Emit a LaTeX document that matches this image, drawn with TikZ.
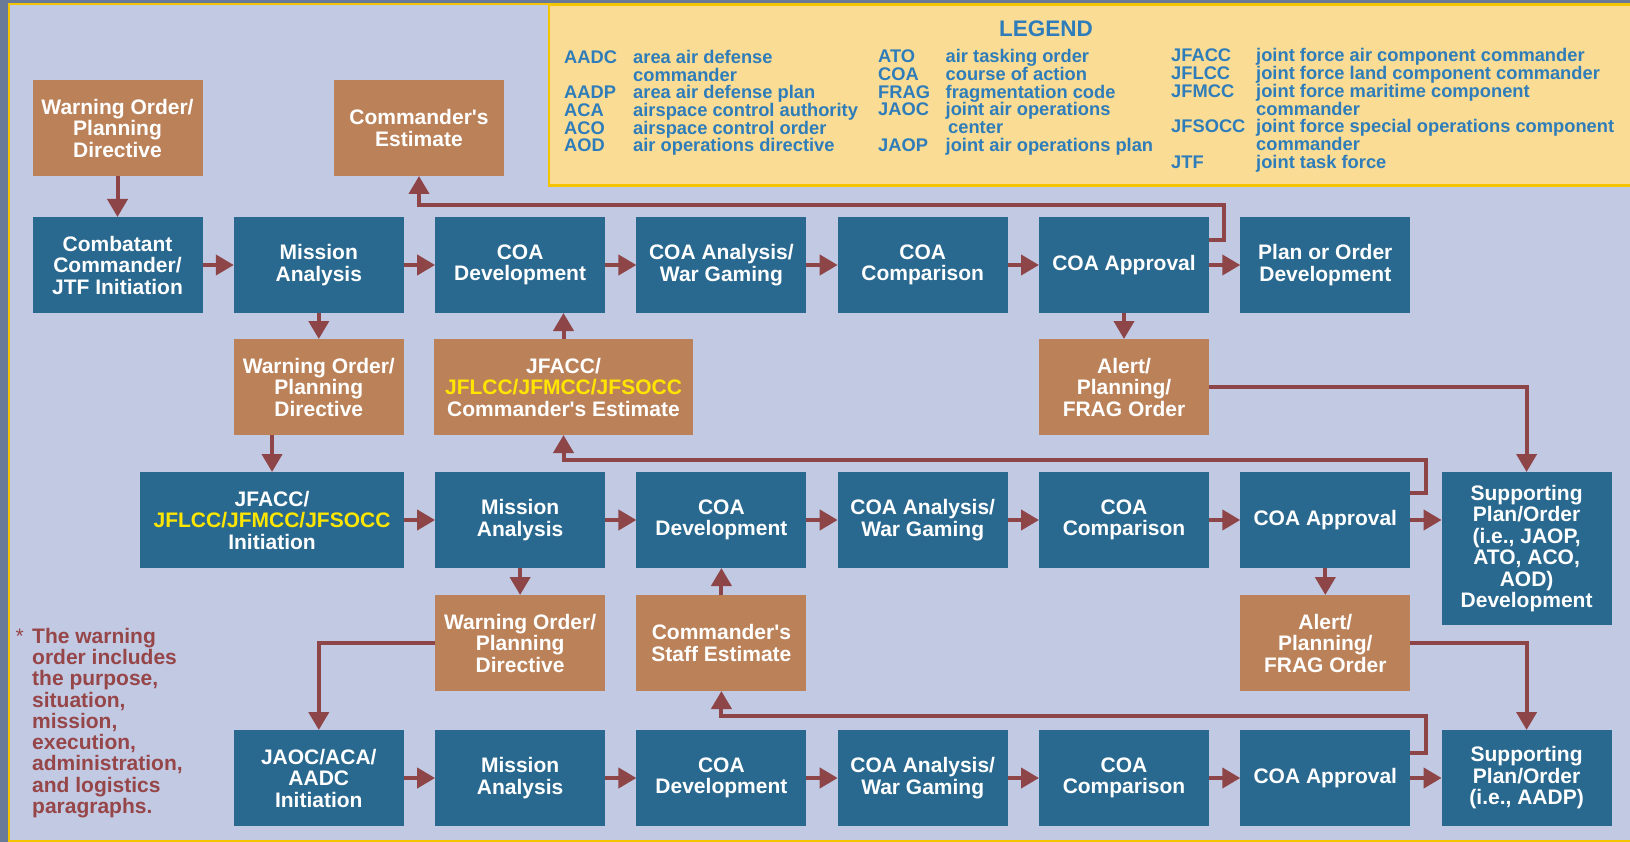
\documentclass[tikz,border=0pt]{standalone}
\usepackage{fontspec}
\setmainfont{Liberation Sans}[Ligatures=TeXOff]
\usetikzlibrary{arrows.meta,calc}

\definecolor{slate}{HTML}{687A98}
\definecolor{lavender}{HTML}{C2C9E3}
\definecolor{framegold}{HTML}{F5C400}
\definecolor{legfill}{HTML}{FADC94}
\definecolor{legblue}{HTML}{2E7DBA}
\definecolor{boxblue}{HTML}{29698F}
\definecolor{boxorange}{HTML}{BB825A}
\definecolor{arrowred}{HTML}{8E4548}
\definecolor{hiyel}{HTML}{FFE600}
\definecolor{notered}{HTML}{964648}

\newcommand\flowfont{\fontsize{21}{21.5}\selectfont\bfseries}
\newcommand\legfont{\fontsize{18.3}{18}\selectfont\bfseries}

\begin{document}
\begin{tikzpicture}[x=1pt,y=-1pt,
  blk/.style={fill=boxblue,text=white,font=\flowfont,align=center,
    minimum width=170pt,minimum height=96pt,inner sep=0pt,outer sep=0pt,
    anchor=north west},
  org/.style={blk,fill=boxorange},
  flow/.style={draw=arrowred,line width=4pt,-{Triangle[length=18pt,width=20pt]}},
  legtxt/.style={font=\legfont,text=legblue,anchor=base west,inner sep=0pt},
  note/.style={text=notered,inner sep=0pt}
]
\useasboundingbox (0,0) rectangle (1630,842);
\clip (0,0) rectangle (1630,842);

% page background and frame
\fill[slate] (0,0) rectangle (1630,842);
\fill[lavender] (8.8,4.1) rectangle (1640,840.8);
\draw[framegold,line width=2.4pt] (8.8,4.1) rectangle (1640,840.8);

% legend panel
\draw[framegold,fill=legfill,line width=2.4pt] (549,5) rectangle (1640,185.5);
\node[font=\fontsize{22.5}{24}\selectfont\bfseries,text=legblue,anchor=base,inner sep=0pt]
  (legtitle) at (1046,36.5) {LEGEND};

\foreach \r/\t in {1/AADC,3/AADP,4/ACA,5/ACO,6/AOD}
  \node[legtxt] (abA\r) at (564,{63.5+17.7*(\r-1)}) {\t};
\foreach \r/\t in {1/area air defense,2/commander,3/area air defense plan,
    4/airspace control authority,5/airspace control order,6/air operations directive}
  \node[legtxt] (dfA\r) at (633,{63.5+17.7*(\r-1)}) {\t};

\foreach \r/\t in {1/ATO,2/COA,3/FRAG,4/JAOC,6/JAOP}
  \node[legtxt] (abB\r) at (878,{62.8+17.7*(\r-1)}) {\t};
\foreach \r/\t in {1/air tasking order,2/course of action,3/fragmentation code,
    4/joint air operations,6/joint air operations plan}
  \node[legtxt] (dfB\r) at (945.5,{62.8+17.7*(\r-1)}) {\t};
\node[legtxt] (dfB5) at (948,{62.8+17.7*4}) {center};

\foreach \r/\t in {1/JFACC,2/JFLCC,3/JFMCC,5/JFSOCC,7/JTF}
  \node[legtxt] (abC\r) at (1171,{62+17.7*(\r-1)}) {\t};
\foreach \r/\t in {1/joint force air component commander,
    2/joint force land component commander,3/joint force maritime component,
    4/commander,5/joint force special operations component,6/commander,
    7/joint task force}
  \node[legtxt] (dfC\r) at (1256,{62+17.7*(\r-1)}) {\t};

% top tier
\node[org] (woA) at (32.5,80) {Warning Order/\\Planning\\Directive};
\node[org] (ceA) at (334,80) {Commander's\\Estimate};

\node[blk] (cc)   at (32.5,217)  {Combatant\\Commander/\\JTF Initiation};
\node[blk] (ma1)  at (233.8,217) {Mission\\Analysis};
\node[blk] (cd1)  at (435.1,217) {COA\\Development};
\node[blk] (an1)  at (636.4,217) {COA Analysis/\\War Gaming};
\node[blk] (cmp1) at (837.7,217) {COA\\Comparison};
\node[blk] (ap1)  at (1039,217)  {COA Approval};
\node[blk] (pod)  at (1240.3,217) {Plan or Order\\Development};

\node[org] (woB) at (233.8,339) {Warning Order/\\Planning\\Directive};
\node[org,minimum width=259pt] (ceB) at (434,339)
  {JFACC/\\\textcolor{hiyel}{JFLCC/JFMCC/JFSOCC}\\Commander's Estimate};
\node[org] (alB) at (1039,339) {Alert/\\Planning/\\FRAG Order};

% component tier
\node[blk,minimum width=263.5pt] (init) at (140.3,472)
  {JFACC/\\\textcolor{hiyel}{JFLCC/JFMCC/JFSOCC}\\Initiation};
\node[blk] (ma2)  at (435.1,472) {Mission\\Analysis};
\node[blk] (cd2)  at (636.4,472) {COA\\Development};
\node[blk] (an2)  at (837.7,472) {COA Analysis/\\War Gaming};
\node[blk] (cmp2) at (1039,472)  {COA\\Comparison};
\node[blk] (ap2)  at (1240.3,472) {COA Approval};
\node[blk,minimum height=153pt] (sp1) at (1441.6,472)
  {Supporting\\Plan/Order\\(i.e., JAOP,\\ATO, ACO,\\AOD)\\Development};

\node[org] (woC)   at (435.1,595) {Warning Order/\\Planning\\Directive};
\node[org] (staff) at (636.4,595) {Commander's\\Staff Estimate};
\node[org] (alC)   at (1240.3,595) {Alert/\\Planning/\\FRAG Order};

% JAOC tier
\node[blk] (jaoc) at (233.8,730) {JAOC/ACA/\\AADC\\Initiation};
\node[blk] (ma3)  at (435.1,730) {Mission\\Analysis};
\node[blk] (cd3)  at (636.4,730) {COA\\Development};
\node[blk] (an3)  at (837.7,730) {COA Analysis/\\War Gaming};
\node[blk] (cmp3) at (1039,730)  {COA\\Comparison};
\node[blk] (ap3)  at (1240.3,730) {COA Approval};
\node[blk] (sp2)  at (1441.6,730) {Supporting\\Plan/Order\\(i.e., AADP)};

% sequence arrows along each tier
\foreach \a/\b in {cc/ma1,ma1/cd1,cd1/an1,an1/cmp1,cmp1/ap1,ap1/pod,
                   init/ma2,ma2/cd2,cd2/an2,an2/cmp2,cmp2/ap2,
                   jaoc/ma3,ma3/cd3,cd3/an3,an3/cmp3,cmp3/ap3,ap3/sp2}
  \draw[flow] (\a.east) -- (\b.west);
\draw[flow] (ap2.east) -- (ap2.east -| sp1.west);

% vertical links
\draw[flow] (woA.south) -- (cc.north);
\draw[flow] (ma1.south) -- (woB.north);
\draw[flow] (woB.south -| init.north) -- (init.north);
\draw[flow] (ceB.north) -- (ceB.north |- cd1.south);
\draw[flow] (ap1.south) -- (alB.north);
\draw[flow] (ma2.south) -- (woC.north);
\draw[flow] (staff.north) -- (cd2.south);
\draw[flow] (ap2.south) -- (alC.north);

% feedback and hand-off links
\draw[flow] ([yshift=-23pt]ap1.north east) -- ++(15,0)
  |- ($(ceA.south)+(0,29)$) -- (ceA.south);
\draw[flow] (alB.east) -| (sp1.north);
\draw[flow] ([yshift=-21pt]ap2.north east) -- ++(16,0)
  |- ($(ceB.south)+(0,25)$) -- (ceB.south);
\draw[flow] (alC.east) -| (sp2.north);
\draw[flow] ([yshift=-23pt]ap3.north east) -- ++(16,0)
  |- ($(staff.south)+(0,25)$) -- (staff.south);
\draw[flow] (woC.west) -| (jaoc.north);

% footnote
\node[note,font=\fontsize{21}{21}\selectfont,anchor=base west] (star) at (15.5,643) {*};
\node[note,font=\fontsize{21}{21.3}\selectfont\bfseries,align=left,anchor=north west]
  (warnnote) at (32,627.7)
  {The warning\\order includes\\the purpose,\\situation,\\mission,\\execution,\\administration,\\and logistics\\paragraphs.};
\end{tikzpicture}
\end{document}
